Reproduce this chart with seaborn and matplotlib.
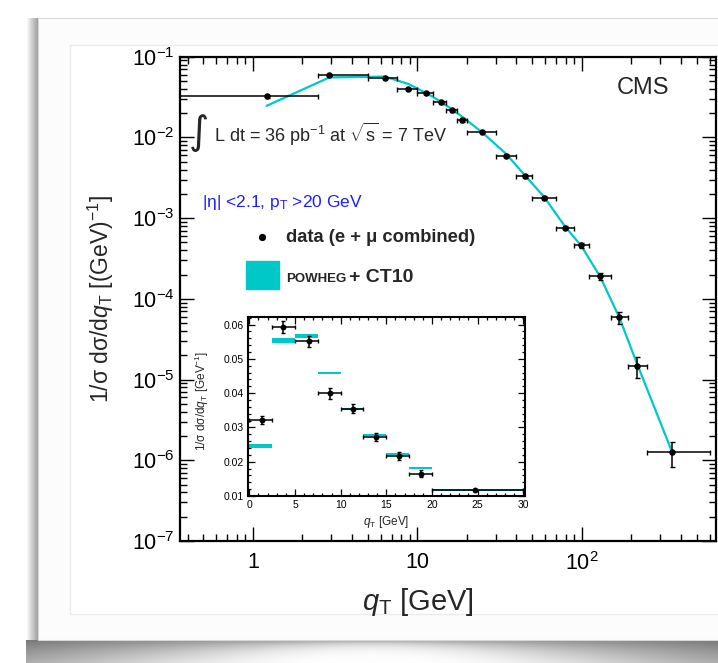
import numpy as np
import pandas as pd
import seaborn as sns
import matplotlib.pyplot as plt
from matplotlib.patches import Rectangle
from matplotlib.lines import Line2D
from matplotlib.ticker import LogLocator, MultipleLocator, NullFormatter

# q_T bins [GeV]
bin_lo = [0, 2.5, 5, 7.5, 10, 12.5, 15, 17.5, 20, 30, 40, 50, 70, 90, 110, 150, 190, 250]
bin_hi = [2.5, 5, 7.5, 10, 12.5, 15, 17.5, 20, 30, 40, 50, 70, 90, 110, 150, 190, 250, 600]
qt_pos = [1.21, 2.92, 6.33, 8.81, 11.3, 13.9, 16.3, 18.7, 24.6, 34.8, 45, 59, 79, 99.5, 129, 169, 216, 355]
qt_pos_inset = [1.39, 3.69, 6.56, 8.87, 11.36, 13.84, 16.36, 18.8, 24.75]

# measured 1/sigma dsigma/dqT and POWHEG + CT10
data_val = [0.0322, 0.0593, 0.0551, 0.0399, 0.0355, 0.0272, 0.0216, 0.0165, 0.0117,
            0.00593, 0.00332, 0.00179, 0.00076, 0.00046, 0.00019, 5.9e-5, 1.47e-5, 1.25e-6]
data_err = [0.0011, 0.0017, 0.0017, 0.0015, 0.0012, 0.0013, 0.0012, 0.0011, 0.0003,
            0.00025, 0.00014, 8e-5, 3e-5, 3.4e-5, 1.8e-5, 9.5e-6, 4.2e-6, 4.2e-7]
powheg_val = [0.0246, 0.0554, 0.0567, 0.046, 0.0355, 0.0278, 0.0221, 0.0181, 0.0117,
              0.0062, 0.0034, 0.00183, 0.00079, 0.00045, 0.00019, 5.9e-5, 1.6e-5, 1.25e-6]
powheg_err = [0.0005, 0.0007, 0.0006, 0.0003, 0.0003, 0.0003, 0.0003, 0.0003, 0.0002]

CYAN = '#00c8c8'
W, H = 718, 663

sns.set_theme(style='ticks')
plt.rcParams['font.family'] = ['Liberation Sans', 'DejaVu Sans']
plt.rcParams['mathtext.fontset'] = 'custom'
plt.rcParams['mathtext.rm'] = 'Liberation Sans'
plt.rcParams['mathtext.it'] = 'Liberation Sans:italic'
plt.rcParams['mathtext.bf'] = 'Liberation Sans:bold'

df = pd.DataFrame({'qt': qt_pos, 'lo': bin_lo, 'hi': bin_hi, 'data': data_val,
                   'err': data_err, 'powheg': powheg_val})
n_in = len(qt_pos_inset)
df_in = pd.DataFrame({'qt': qt_pos_inset, 'lo': bin_lo[:n_in], 'hi': bin_hi[:n_in],
                      'data': data_val[:n_in], 'err': data_err[:n_in],
                      'powheg': powheg_val[:n_in], 'perr': powheg_err})

fig = plt.figure(figsize=(W / 100, H / 100), dpi=100)
fig.patch.set_facecolor('white')

def fx(px):
    return px / W

def fy(py):
    return 1 - py / H

# ---- slide-like background frame with shadows
bg = fig.add_axes([0, 0, 1, 1], zorder=-20)
bg.set_xlim(0, W)
bg.set_ylim(H, 0)
bg.axis('off')
xs = np.arange(26, W + 1)
dy = np.arange(0, 24)
t = (xs - 372) / 346.0
thick = 5 + 40 * t ** 2
shade = 1 - (0.42 + 0.12 * t[None, :] ** 2) * np.exp(-dy[:, None] / thick[None, :])
bg.imshow(shade, extent=(26, W, 663, 639), cmap='gray', vmin=0, vmax=1, aspect='auto')
left = np.linspace(1.0, 0.74, 12) ** 1.5
left = left[None, :].repeat(10, axis=0)
bg.imshow(left, extent=(26, 38, 640, 18), cmap='gray', vmin=0, vmax=1, aspect='auto')
bg.add_patch(Rectangle((38, 18), W - 38 + 5, 622, fc='#fcfcfc', ec='#d8d8d8', lw=0.8))
bg.add_patch(Rectangle((70, 45), W - 70 + 5, 569, fc='white', ec='#ebebeb', lw=1.0))

# ---- main panel
ax = fig.add_axes([fx(180), fy(541), (716 - 180) / W, (541 - 56.7) / H])
ax.set_xscale('log')
ax.set_yscale('log')
ax.errorbar(df['qt'], df['data'], xerr=[df['qt'] - df['lo'], df['hi'] - df['qt']],
            yerr=df['err'], fmt='none', ecolor='black', elinewidth=1.1,
            capsize=1.8, capthick=1.0, zorder=4)
sns.lineplot(data=df, x='qt', y='powheg', ax=ax, color=CYAN, lw=1.6, zorder=3)
sns.scatterplot(data=df, x='qt', y='data', ax=ax, color='black', s=22,
                linewidth=0, zorder=5)
ax.set_xlim(0.36, 655)
ax.set_ylim(1e-7, 1e-1)
ax.set_xticks([1, 10, 100], labels=['1', '10', '10$^2$'])
ax.xaxis.set_minor_locator(LogLocator(base=10, subs=np.arange(2, 10)))
ax.xaxis.set_minor_formatter(NullFormatter())
ax.yaxis.set_major_locator(LogLocator(base=10, numticks=10))
ax.yaxis.set_minor_locator(LogLocator(base=10, subs=np.arange(2, 10), numticks=20))
ax.yaxis.set_minor_formatter(NullFormatter())
ax.tick_params(which='both', direction='in', top=True, right=True, width=1.0,
               labelsize=15.5, colors='black')
ax.tick_params(which='major', length=10)
ax.tick_params(which='minor', length=5)
ax.tick_params(axis='x', pad=8)
ax.tick_params(axis='y', pad=4)
for sp in ax.spines.values():
    sp.set_linewidth(1.6)
    sp.set_color('black')
ax.set_xlabel('$q_{\\rm T}$ [GeV]', fontsize=21)
ax.xaxis.set_label_coords(0.444, -0.092)
ax.set_ylabel('1/σ dσ/d$q_{\\rm T}$ [(GeV)$^{-1}$]', fontsize=16.5)
ax.yaxis.set_label_coords(-0.12, 0.5)

# ---- annotations
fig.text(fx(643), fy(88), 'CMS', ha='center', va='center', fontsize=17)
fig.text(fx(199), fy(133), '∫', ha='center', va='center', fontsize=28, family='DejaVu Sans')
fig.text(fx(213.6), fy(141.7), 'L dt = 36 pb$^{-1}$ at $\\sqrt{\\rm s}$ = 7 TeV',
         va='baseline', fontsize=13)
fig.text(fx(202), fy(203), '|η| <2.1, p$_{\\rm T}$ >20 GeV', va='center',
         color='#2020ff', fontsize=12.5)
fig.add_artist(Line2D([fx(262)], [fy(236.7)], marker='o', color='black',
                      markersize=4.2, transform=fig.transFigure))
fig.text(fx(286), fy(241.7), 'data (e + μ combined)', fontweight='bold',
         va='baseline', fontsize=13.2)
fig.add_artist(Rectangle((fx(246), fy(288.7)), 33 / W, 28 / H, color=CYAN,
                         transform=fig.transFigure))
fig.text(fx(286), fy(282.3), 'POWHEG', fontweight='bold', va='baseline', fontsize=9.5)
fig.text(fx(349), fy(282.3), '+ CT10', fontweight='bold', va='baseline', fontsize=14)

# ---- inset (linear scale)
axin = fig.add_axes([fx(248), fy(496), 277 / W, 179 / H])
axin.bar(df_in['lo'], 2 * df_in['perr'], width=df_in['hi'] - df_in['lo'],
         bottom=df_in['powheg'] - df_in['perr'], align='edge', color=CYAN,
         linewidth=0, zorder=2)
axin.errorbar(df_in['qt'], df_in['data'],
              xerr=[df_in['qt'] - df_in['lo'], df_in['hi'] - df_in['qt']],
              yerr=df_in['err'], fmt='none', ecolor='black', elinewidth=1.1,
              capsize=1.5, capthick=1.0, zorder=4)
sns.scatterplot(data=df_in, x='qt', y='data', ax=axin, color='black', s=18,
                linewidth=0, zorder=5)
axin.set_xlim(-0.15, 30.2)
axin.set_ylim(0.01, 0.0622)
axin.xaxis.set_major_locator(MultipleLocator(5))
axin.xaxis.set_minor_locator(MultipleLocator(1))
axin.yaxis.set_major_locator(MultipleLocator(0.01))
axin.yaxis.set_minor_locator(MultipleLocator(0.002))
axin.yaxis.set_major_formatter(plt.FuncFormatter(lambda v, p: f'{v:.2f}'))
axin.tick_params(which='both', direction='in', top=True, right=True, width=0.9,
                 labelsize=7.5, colors='black')
axin.tick_params(which='major', length=5)
axin.tick_params(which='minor', length=2.5)
axin.tick_params(axis='x', pad=3)
axin.tick_params(axis='y', pad=3)
for sp in axin.spines.values():
    sp.set_linewidth(1.5)
    sp.set_color('black')
axin.set_xlabel('$q_{\\rm T}$ [GeV]', fontsize=8.5)
axin.xaxis.set_label_coords(0.5, -0.1)
axin.set_ylabel('1/σ dσ/d$q_{\\rm T}$ [GeV$^{-1}$]', fontsize=8.5)
axin.yaxis.set_label_coords(-0.135, 0.53)

fig.savefig('out.png', dpi=100, facecolor='white')
